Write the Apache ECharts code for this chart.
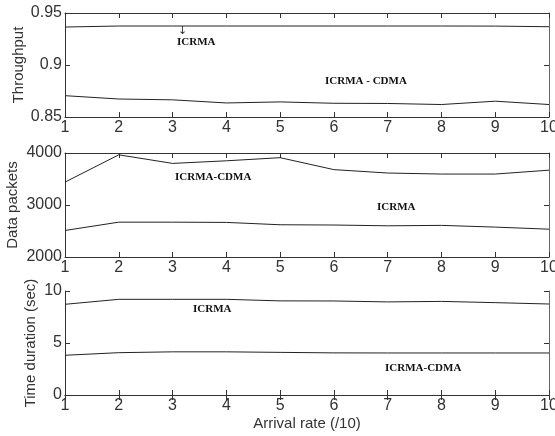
<!DOCTYPE html>
<html>
<head>
<meta charset="utf-8">
<script src="https://cdn.jsdelivr.net/npm/echarts@6/dist/echarts.min.js"></script>
<style>html,body{margin:0;padding:0;background:#fff;}#c{width:555px;height:436px;}</style>
</head>
<body>
<div id="c"></div>
<script>
// ---- data ----
var arrivalRate = [1, 2, 3, 4, 5, 6, 7, 8, 9, 10];
var throughputICRMA = [0.9365, 0.9375, 0.9375, 0.9375, 0.9375, 0.9375, 0.9375, 0.9375, 0.9374, 0.9368];
var throughputCDMA  = [0.8705, 0.8673, 0.8665, 0.8635, 0.8645, 0.8632, 0.8630, 0.8620, 0.8652, 0.8620];
var packetsCDMA  = [3440, 3965, 3800, 3850, 3910, 3680, 3615, 3595, 3595, 3670];
var packetsICRMA = [2510, 2670, 2670, 2665, 2620, 2615, 2600, 2608, 2575, 2535];
var timeICRMA = [8.72, 9.20, 9.20, 9.20, 9.05, 9.04, 8.95, 9.00, 8.88, 8.75];
var timeCDMA  = [3.82, 4.07, 4.15, 4.15, 4.10, 4.05, 4.04, 4.04, 4.04, 4.04];
var yTicks1 = [0.85, 0.9, 0.95];
var yTicks2 = [2000, 3000, 4000];
var yTicks3 = [0, 5, 10];

function pairs(xs, ys) { return xs.map(function (x, i) { return [x, ys[i]]; }); }

var axisColor = '#333';
var font = 'Liberation Sans, Arial, sans-serif';
var serif = 'Liberation Serif, Times New Roman, serif';

var grids = [
  { left: 65, top: 13, width: 484, height: 104, outerBoundsMode: 'none', containLabel: false },
  { left: 65, top: 153, width: 484, height: 104, outerBoundsMode: 'none', containLabel: false },
  { left: 65, top: 291, width: 484, height: 104, outerBoundsMode: 'none', containLabel: false }
];

var xAxes = [], yAxes = [];
var yDefs = [
  { ticks: yTicks1, name: 'Throughput', gap: 39, fmt: function (v) { return v === 0.9 ? '0.9' : v.toFixed(2); } },
  { ticks: yTicks2, name: 'Data packets', gap: 45, fmt: function (v) { return String(v); } },
  { ticks: yTicks3, name: 'Time duration (sec)', gap: 27, fmt: function (v) { return String(v); } }
];
grids.forEach(function (g, i) {
  var base = {
    type: 'value', gridIndex: i, min: 1, max: 10, interval: 1,
    axisLine: { show: true, lineStyle: { color: axisColor, width: 1 } },
    axisTick: { show: true, inside: true, length: 5, lineStyle: { color: axisColor } },
    splitLine: { show: false }
  };
  var bottom = Object.assign({}, base, {
    position: 'bottom',
    axisLabel: { show: true, color: '#333', fontFamily: font, fontSize: 16, margin: 3 }
  });
  if (i === 2) {
    bottom.name = 'Arrival rate (/10)';
    bottom.nameLocation = 'middle';
    bottom.nameGap = 21;
    bottom.nameMoveOverlap = false;
    bottom.nameTextStyle = { color: '#333', fontFamily: font, fontSize: 15 };
  }
  xAxes.push(bottom);
  xAxes.push(Object.assign({}, base, { position: 'top', axisLabel: { show: false } }));

  var d = yDefs[i];
  var ybase = {
    type: 'value', gridIndex: i, min: d.ticks[0], max: d.ticks[d.ticks.length - 1],
    interval: d.ticks[1] - d.ticks[0],
    axisLine: { show: true, lineStyle: { color: axisColor, width: 1 } },
    axisTick: { show: true, inside: true, length: 5, lineStyle: { color: axisColor } },
    splitLine: { show: false }
  };
  yAxes.push(Object.assign({}, ybase, {
    position: 'left',
    axisLabel: { show: true, color: '#333', fontFamily: font, fontSize: 16, margin: 3, formatter: d.fmt },
    name: d.name, nameLocation: 'middle', nameGap: d.gap, nameMoveOverlap: false,
    nameTextStyle: { color: '#333', fontFamily: font, fontSize: 15 }
  }));
  yAxes.push(Object.assign({}, ybase, {
    position: 'right',
    axisLine: { show: true, lineStyle: { color: '#666', width: 1 } },
    axisLabel: { show: false }
  }));
});

function line(name, data, gi) {
  return {
    name: name, type: 'line', xAxisIndex: gi * 2, yAxisIndex: gi * 2,
    data: pairs(arrivalRate, data), showSymbol: false, symbol: 'none',
    lineStyle: { color: '#222', width: 1 }, silent: true, animation: false
  };
}

function note(txt, x, y) {
  return { type: 'text', left: x, top: y - 6, style: { text: txt, fill: '#111', font: 'bold 11px ' + serif } };
}

var option = {
  backgroundColor: '#fff',
  animation: false,
  grid: grids,
  xAxis: xAxes,
  yAxis: yAxes,
  series: [
    line('ICRMA', throughputICRMA, 0),
    line('ICRMA - CDMA', throughputCDMA, 0),
    line('ICRMA-CDMA', packetsCDMA, 1),
    line('ICRMA', packetsICRMA, 1),
    line('ICRMA', timeICRMA, 2),
    line('ICRMA-CDMA', timeCDMA, 2)
  ],
  graphic: [
    { type: 'text', left: 178, top: 26, style: { text: '↓', fill: '#333', font: '11px DejaVu Sans' } },
    note('ICRMA', 177, 43),
    note('ICRMA - CDMA', 325, 82),
    note('ICRMA-CDMA', 175, 178),
    note('ICRMA', 377, 208),
    note('ICRMA', 193, 310),
    note('ICRMA-CDMA', 385, 369)
  ]
};

var chart = echarts.init(document.getElementById('c'), null, { renderer: 'canvas' });
chart.setOption(option);
</script>
</body>
</html>
